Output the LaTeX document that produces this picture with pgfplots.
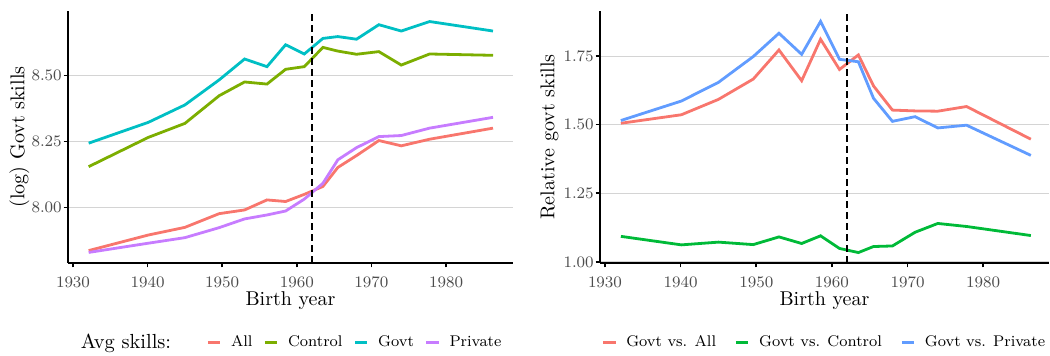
\documentclass[border=0pt]{standalone}
\usepackage{pgfplots}
\pgfplotsset{compat=1.18}
\usepackage{pgfplotstable}
\definecolor{cA}{HTML}{F8766D}
\definecolor{cB}{HTML}{7CAE00}
\definecolor{cC}{HTML}{00BFC4}
\definecolor{cD}{HTML}{C77CFF}
\definecolor{cG}{HTML}{00BA38}
\definecolor{cP}{HTML}{619CFF}
\definecolor{tickgray}{HTML}{4D4D4D}
\definecolor{gridgray}{HTML}{D4D4D4}

\pgfplotstableread{
year All Control Govt Private
1932.1 7.837 8.155 8.244 7.830
1940.1 7.896 8.266 8.323 7.865
1945.0 7.925 8.319 8.389 7.886
1949.6 7.977 8.424 8.484 7.924
1953.0 7.991 8.476 8.563 7.957
1956.0 8.029 8.468 8.534 7.972
1958.5 8.023 8.524 8.617 7.987
1961.0 8.050 8.534 8.582 8.032
1963.5 8.080 8.607 8.641 8.092
1965.5 8.152 8.593 8.648 8.181
1968.0 8.197 8.581 8.638 8.227
1971.0 8.254 8.591 8.693 8.269
1974.0 8.234 8.540 8.669 8.273
1977.8 8.259 8.582 8.705 8.301
1986.3 8.301 8.577 8.669 8.342
}\lefttab

\pgfplotstableread{
year VsAll VsControl VsPrivate
1932.1 1.505 1.093 1.515
1940.1 1.536 1.062 1.586
1945.0 1.592 1.072 1.654
1949.6 1.666 1.063 1.748
1953.0 1.772 1.091 1.833
1956.0 1.660 1.067 1.756
1958.5 1.811 1.095 1.876
1961.0 1.701 1.049 1.738
1963.5 1.754 1.034 1.729
1965.5 1.641 1.056 1.596
1968.0 1.553 1.058 1.512
1971.0 1.550 1.108 1.529
1974.0 1.549 1.140 1.488
1977.8 1.566 1.129 1.498
1986.3 1.447 1.096 1.388
}\righttab

\pgfplotsset{
  mystyle/.style={
    scale only axis, anchor=south west,
    height=126pt,
    axis lines*=left,
    axis line style={line width=1.1pt, black},
    tick align=outside,
    major tick length=2.2pt,
    tick style={line width=0.8pt, black},
    ymajorgrids, grid style={gridgray, line width=0.5pt},
    xtick={1930,1940,...,1980},
    /pgf/number format/assume math mode=true,
    x tick label style={font=\fontsize{8}{9}\selectfont, text=tickgray, /pgf/number format/1000 sep={}, yshift=-1.3pt},
    y tick label style={font=\fontsize{8}{9}\selectfont, text=tickgray, xshift=2.6pt, /pgf/number format/.cd, fixed, fixed zerofill, precision=2, /tikz/.cd},
    label style={font=\fontsize{10}{12}\selectfont},
    xlabel style={at={(axis description cs:0.5,0)}, anchor=center, yshift=-19pt},
    ylabel style={at={(axis description cs:0,0.5)}, anchor=center},
    legend style={draw=none, fill=none, font=\fontsize{7.75}{9.5}\selectfont, legend columns=-1,
      /tikz/every odd column/.append style={column sep=2.6pt}, anchor=center},
    legend image code/.code={\draw[line width=1.5pt] (0pt,0pt) -- (6.2pt,0pt);},
    every axis plot/.append style={line width=1.4pt, no markers},
  }
}

\begin{document}
\begin{tikzpicture}
\useasboundingbox (0,0) rectangle (525pt,178pt);

\begin{axis}[mystyle, at={(34pt,46.5pt)}, width=222.5pt,
  xmin=1929.33, xmax=1988.98, ymin=7.79, ymax=8.745,
  ytick={8.00,8.25,8.50},
  xlabel={Birth year}, ylabel={(log) Govt skills},
  ylabel style={yshift=24.25pt},
  legend style={at={(axis description cs:0.647,-0.317)},
    /tikz/every even column/.append style={column sep=3.5pt}}]
\addplot[cA] table[x=year,y=All]{\lefttab};
\addlegendentry{All}
\addplot[cB] table[x=year,y=Control]{\lefttab};
\addlegendentry{Control}
\addplot[cC] table[x=year,y=Govt]{\lefttab};
\addlegendentry{Govt}
\addplot[cD] table[x=year,y=Private]{\lefttab};
\addlegendentry{Private}
\addplot[forget plot, black, line width=1pt, dash pattern=on 3.5pt off 2pt] coordinates {(1962,7.79) (1962,8.745)};
\end{axis}

\begin{axis}[mystyle, at={(300pt,46.5pt)}, width=224.5pt,
  xmin=1929.34, xmax=1988.7, ymin=0.996, ymax=1.914,
  ytick={1.00,1.25,1.50,1.75},
  xlabel={Birth year}, ylabel={Relative govt skills},
  ylabel style={yshift=25.25pt},
  legend style={at={(axis description cs:0.502,-0.317)},
    /tikz/every even column/.append style={column sep=7.2pt}}]
\addplot[cA] table[x=year,y=VsAll]{\righttab};
\addlegendentry{Govt vs. All}
\addplot[cG] table[x=year,y=VsControl]{\righttab};
\addlegendentry{Govt vs. Control}
\addplot[cP] table[x=year,y=VsPrivate]{\righttab};
\addlegendentry{Govt vs. Private}
\addplot[forget plot, black, line width=1pt, dash pattern=on 3.5pt off 2pt] coordinates {(1962,0.996) (1962,1.914)};
\end{axis}

\node[anchor=center, font=\fontsize{10.2}{12}\selectfont] at (63pt,6.5pt) {Avg skills:};
\end{tikzpicture}
\end{document}
